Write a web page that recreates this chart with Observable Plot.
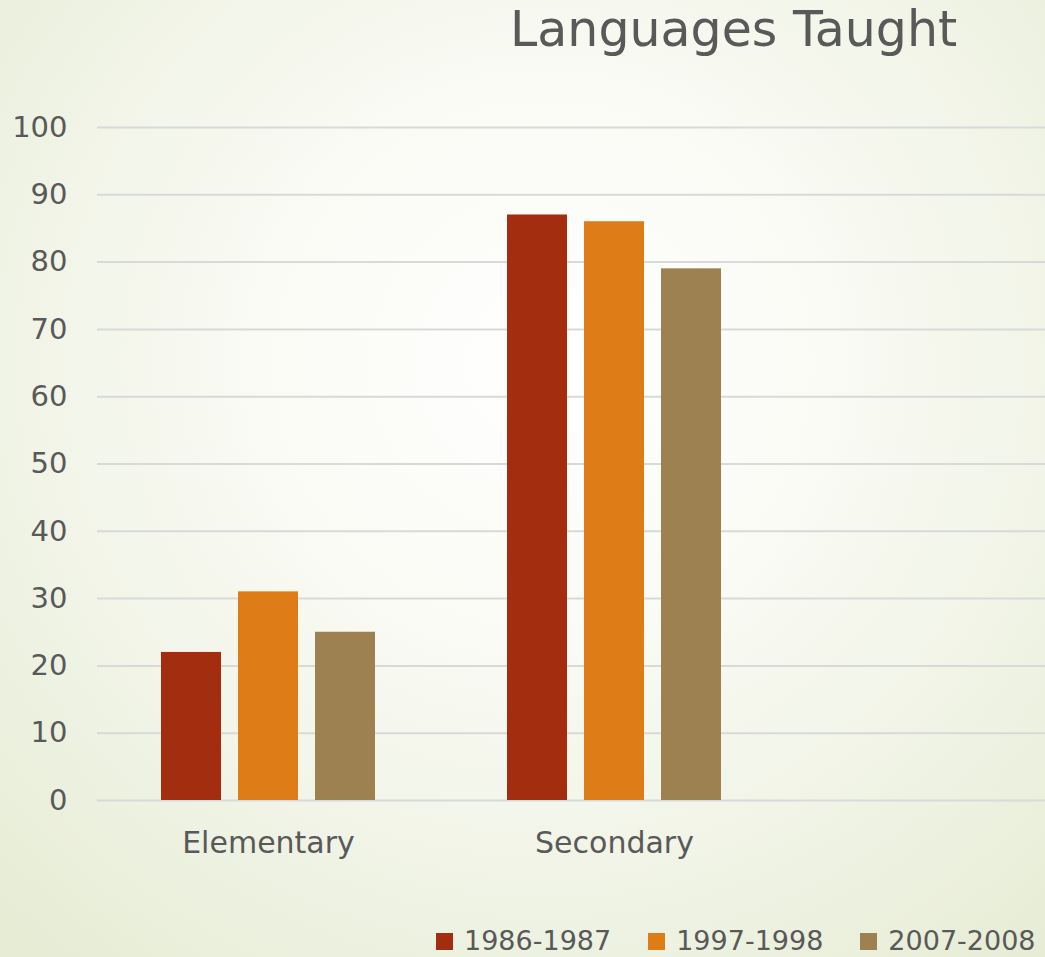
<!DOCTYPE html>
<html>
<head>
<meta charset="utf-8">
<script src="https://cdn.jsdelivr.net/npm/d3@7"></script>
<script src="https://cdn.jsdelivr.net/npm/@observablehq/plot@0.6"></script>
<style>
  html, body { margin: 0; padding: 0; overflow: hidden; }
  #wrap {
    position: relative; width: 1045px; height: 957px; overflow: hidden;
    background: radial-gradient(ellipse 75% 80% at 52% 38%, #ffffff 0%, #fafbf5 35%, #eef2e2 75%, #e7ecd5 100%);
    font-family: "DejaVu Sans", sans-serif; color: #595959;
  }
  #title {
    position: absolute; left: 510px; top: 0px; font-size: 49px; line-height: 60px;
    white-space: nowrap; color: #595959;
  }
  #chart { position: absolute; left: 0; top: 0; }
  #legend {
    position: absolute; left: 436px; top: 926px; display: flex; align-items: center;
    font-size: 27px; line-height: 30px; white-space: nowrap;
  }
  .item { display: flex; align-items: center; margin-right: 37px; }
  .sw { width: 17px; height: 17px; margin-right: 11px; }
</style>
</head>
<body>
<div id="wrap">
  <div id="title">Languages Taught</div>
  <div id="chart"></div>
  <div id="legend"></div>
</div>
<script>
const categories = ["Elementary", "Secondary"];
const series = ["1986-1987", "1997-1998", "2007-2008"];
const values1986 = [22, 87];
const values1997 = [31, 86];
const values2007 = [25, 79];
const colors = ["#a32e0f", "#de7c18", "#9e8150"];
const yTicks = [0, 10, 20, 30, 40, 50, 60, 70, 80, 90, 100];

const seriesValues = [values1986, values1997, values2007];
const data = [];
series.forEach((s, i) => categories.forEach((c, j) => data.push({series: s, category: c, value: seriesValues[i][j]})));

const offsets = [-77, 0, 77];
const barMarks = series.map((s, i) =>
  Plot.barY(data.filter(d => d.series === s), {
    x: "category", y: "value", fill: colors[i], dx: offsets[i], insetLeft: 143, insetRight: 143
  })
);

const chart = Plot.plot({
  width: 1045,
  height: 880,
  marginLeft: 97,
  marginRight: 0,
  marginTop: 127,
  marginBottom: 80,
  style: {background: "transparent", fontFamily: "DejaVu Sans, sans-serif", color: "#595959", overflow: "visible"},
  x: {domain: [...categories, ""], range: [95, 1133], padding: 0},
  y: {domain: [0, 100]},
  marks: [
    Plot.ruleY(yTicks, {stroke: "#d9d9d9", strokeWidth: 2}),
    ...barMarks,
    Plot.axisY({ticks: yTicks, tickSize: 0, tickPadding: 30, fontSize: 29, label: null}),
    Plot.axisX({ticks: categories, tickSize: 0, tickPadding: 31, fontSize: 30, label: null})
  ]
});
document.getElementById("chart").appendChild(chart);

const legend = document.getElementById("legend");
series.forEach((s, i) => {
  const item = document.createElement("div");
  item.className = "item";
  const sw = document.createElement("div");
  sw.className = "sw";
  sw.style.background = colors[i];
  const t = document.createElement("span");
  t.textContent = s;
  item.appendChild(sw);
  item.appendChild(t);
  legend.appendChild(item);
});
</script>
</body>
</html>
